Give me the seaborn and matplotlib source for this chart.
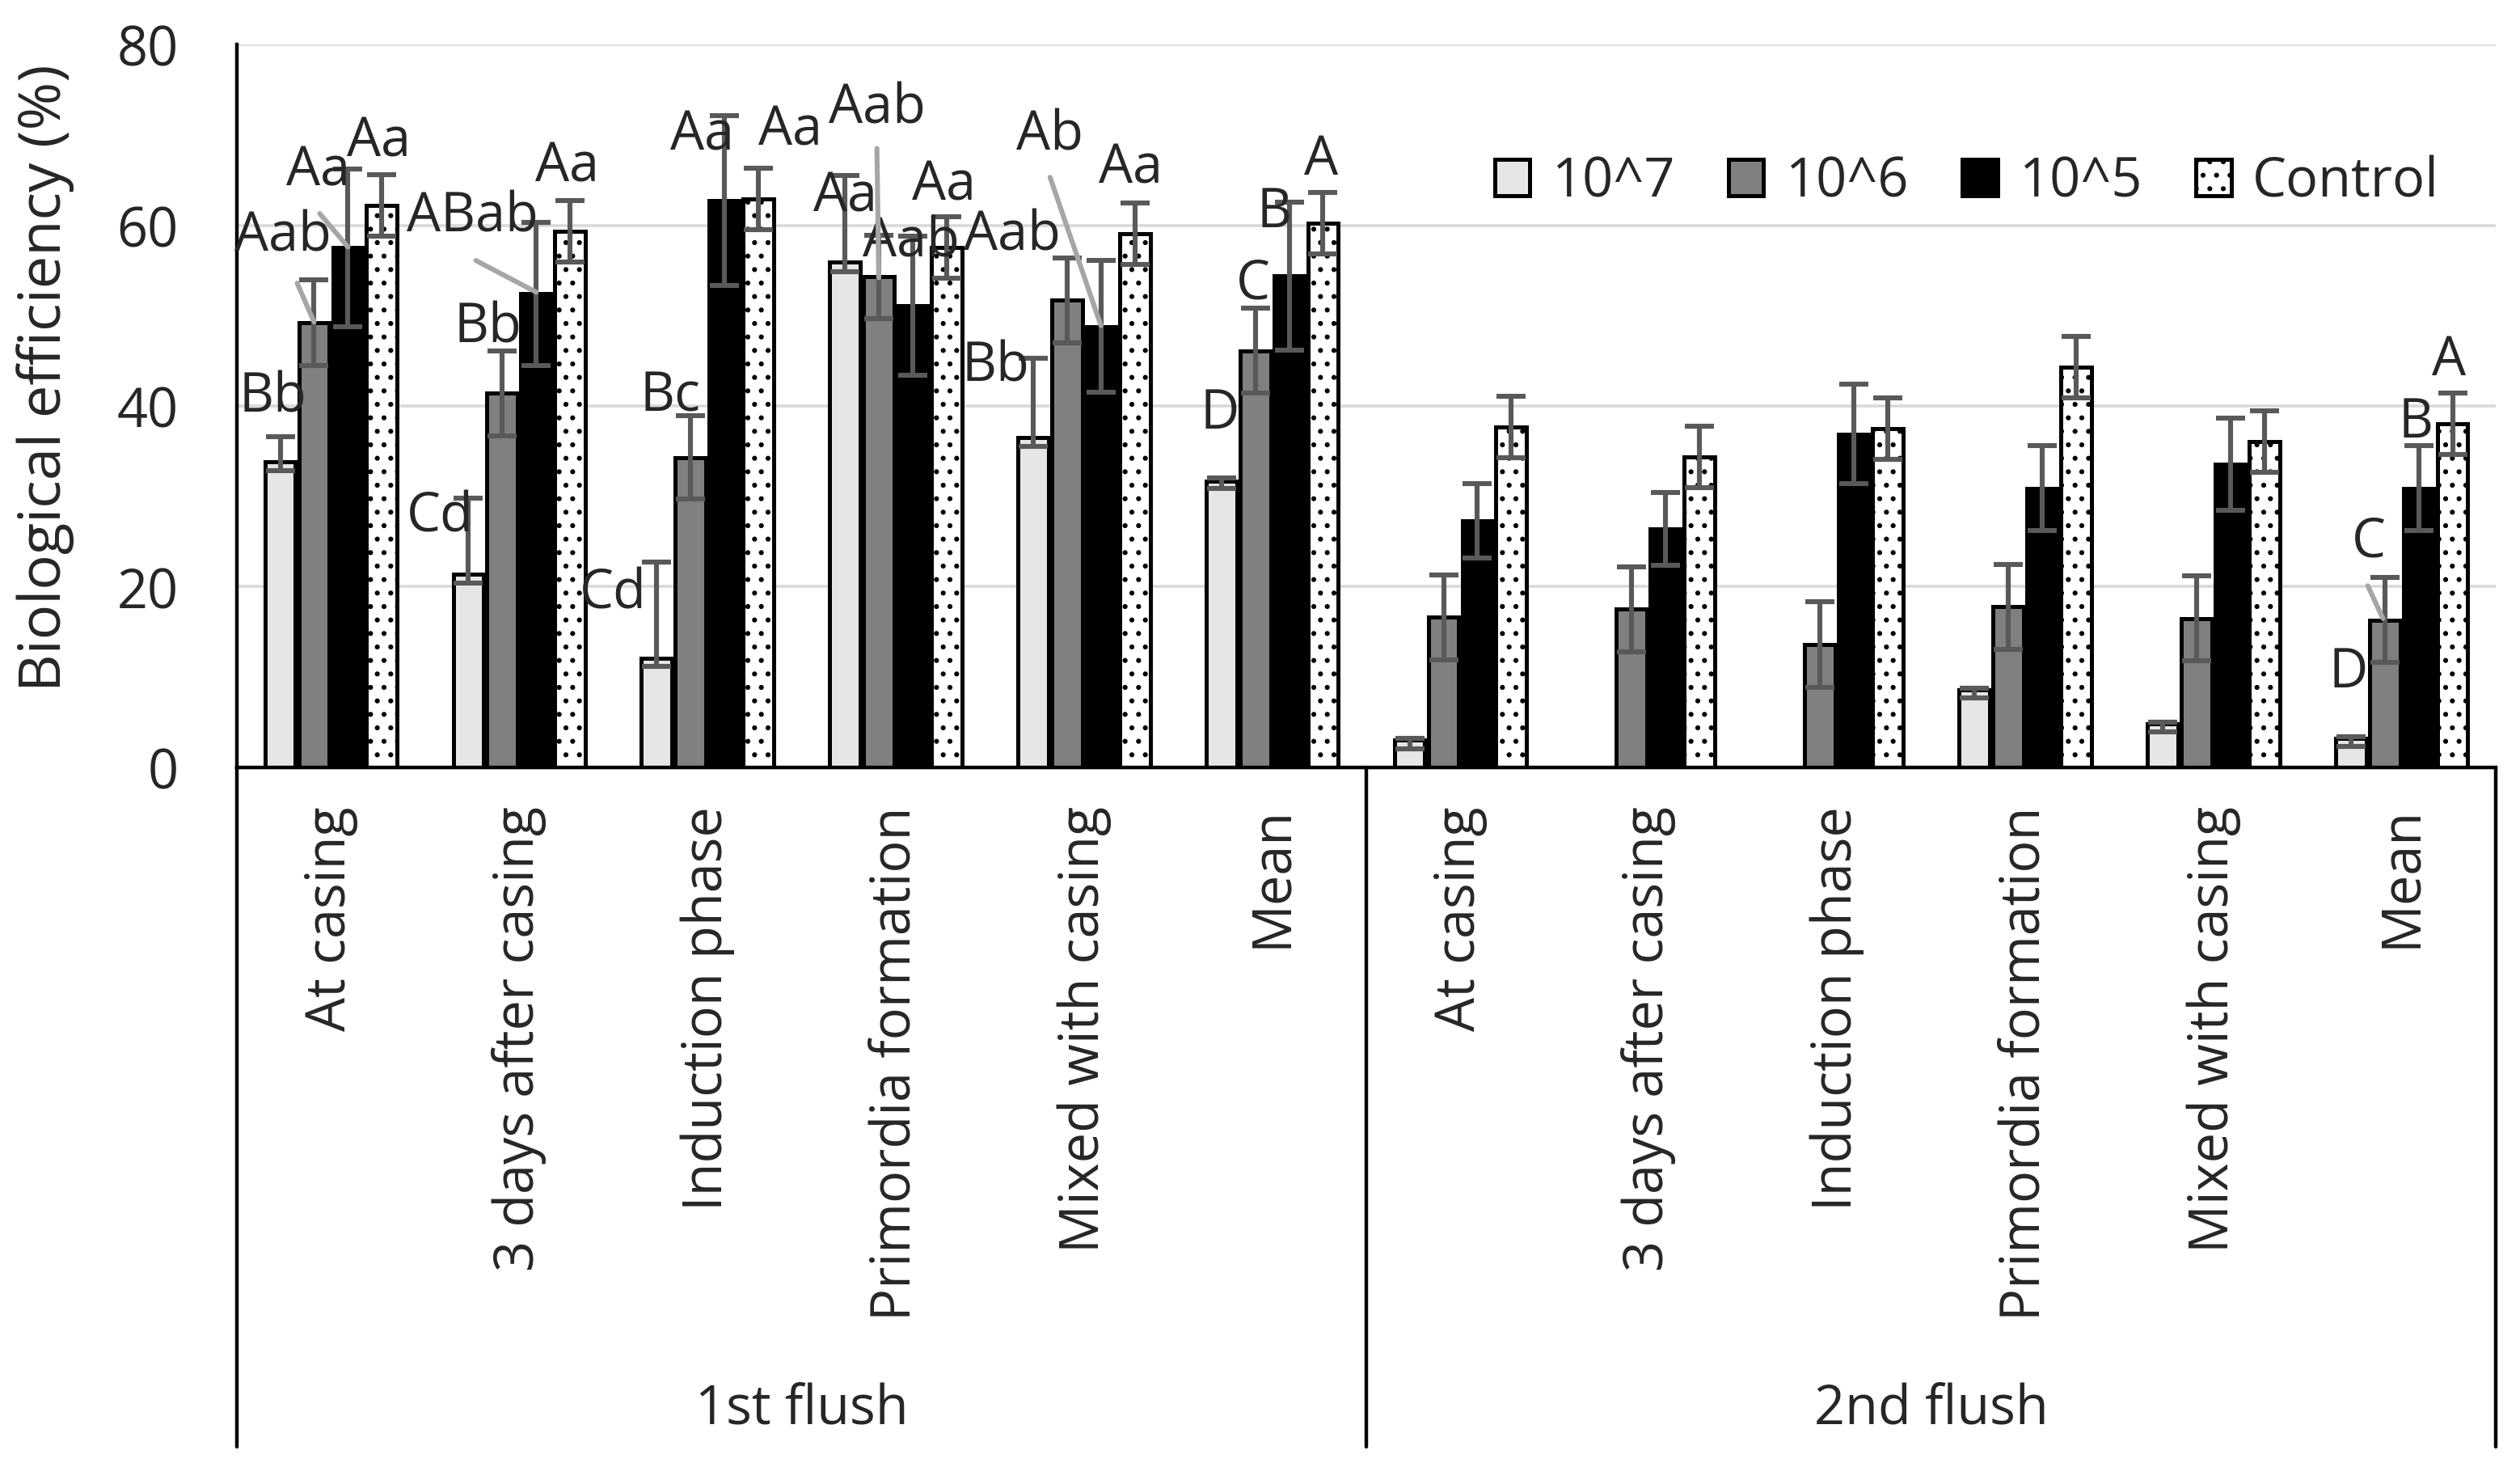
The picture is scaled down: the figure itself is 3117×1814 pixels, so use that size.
import numpy as np
import pandas as pd
import matplotlib.pyplot as plt
import matplotlib.transforms as mtransforms
from matplotlib.patches import Patch
import seaborn as sns

# === Data ===
flushes = ["1st flush", "2nd flush"]
stages = ["At casing", "3 days after casing", "Induction phase",
          "Primordia formation", "Mixed with casing", "Mean"]
doses = ["10^7", "10^6", "10^5", "Control"]

be_1e7 = [33.8, 21.4, 12.1, 55.9, 36.5, 31.7, 3.0, 0.0, 0.0, 8.6, 4.8, 3.2]
be_1e6 = [49.2, 41.4, 34.3, 54.3, 51.7, 46.1, 16.6, 17.5, 13.6, 17.8, 16.5, 16.3]
be_1e5 = [57.5, 52.4, 62.7, 51.1, 48.8, 54.4, 27.3, 26.4, 36.9, 30.9, 33.6, 30.9]
be_ctrl = [62.2, 59.3, 62.9, 57.5, 59.1, 60.2, 37.7, 34.4, 37.5, 44.3, 36.1, 38.0]

# error bars (10^7 ones are asymmetric in the figure)
err_1e7_lo = [1.0, 1.0, 0.9, 1.0, 1.0, 0.8, 0.9, 0.0, 0.0, 0.9, 0.9, 0.9]
err_1e7_hi = [2.8, 8.4, 10.6, 9.6, 8.8, 0.3, 0.2, 0.0, 0.0, 0.2, 0.2, 0.2]
err_1e6 = [4.75, 4.7, 4.6, 4.6, 4.7, 4.7, 4.7, 4.7, 4.7, 4.7, 4.7, 4.7]
err_1e5 = [8.7, 7.9, 9.4, 7.7, 7.3, 8.2, 4.1, 4.0, 5.5, 4.7, 5.1, 4.7]
err_ctrl = [3.4, 3.4, 3.4, 3.4, 3.4, 3.4, 3.4, 3.4, 3.4, 3.4, 3.4, 3.4]

# significance letters
letters = ["Bb", "Aab", "Aa", "Aa",
           "Cd", "Bb", "ABab", "Aa",
           "Cd", "Bc", "Aa", "Aa",
           "Aa", "Aab", "Aab", "Aa",
           "Bb", "Aab", "Ab", "Aa",
           "D", "C", "B", "A",
           "D", "C", "B", "A"]

# === Long-format table ===
slots = [f"{f}|{s}" for f in flushes for s in stages]
series = {"10^7": be_1e7, "10^6": be_1e6, "10^5": be_1e5, "Control": be_ctrl}
rows = []
for dose in doses:
    for slot, v in zip(slots, series[dose]):
        rows.append({"slot": slot, "dose": dose, "value": v})
df = pd.DataFrame(rows)

errs = {"10^7": (err_1e7_lo, err_1e7_hi),
        "10^6": (err_1e6, err_1e6),
        "10^5": (err_1e5, err_1e5),
        "Control": (err_ctrl, err_ctrl)}

# === Plot ===
sns.set_style("white")
plt.rcParams['font.family'] = ['Open Sans', 'DejaVu Sans']
plt.rcParams['hatch.linewidth'] = 1.0

fig = plt.figure(figsize=(15.585, 9.075), dpi=200)
ax = fig.add_axes([0.094, 0.4766, 0.8964, 0.4925])

palette = {"10^7": "#E7E6E6", "10^6": "#808080", "10^5": "#000000", "Control": "#FFFFFF"}
sns.barplot(data=df, x="slot", y="value", hue="dose", order=slots, hue_order=doses,
            palette=palette, saturation=1, width=0.72, gap=0.1,
            edgecolor="black", linewidth=1.8, errorbar=None, legend=False, ax=ax)

for patch in ax.containers[3]:
    patch.set_hatch("..")

# error bars on top of seaborn's bars
for dose, cont in zip(doses, ax.containers):
    lo, hi = errs[dose]
    for patch, v, l, h in zip(cont, series[dose], lo, hi):
        if v == 0:
            continue
        xc = patch.get_x() + patch.get_width() / 2
        ax.errorbar([xc], [v], yerr=[[l], [h]], fmt="none", ecolor="#595959",
                    elinewidth=2.2, capsize=6.5, capthick=2.2, zorder=5)

# letter annotations (x in category units, y in data units)
ann_pos = [(-0.31, 41.0), (-0.255, 58.8), (-0.07, 66.1), (0.255, 69.3),
           (0.58, 27.8), (0.835, 48.7), (0.75, 61.0), (1.255, 66.5),
           (1.50, 19.3), (1.80, 41.1), (1.97, 70.0), (2.44, 70.5),
           (2.73, 63.2), (2.90, 73.0), (3.08, 58.2), (3.255, 64.5),
           (3.53, 44.4), (3.62, 58.9), (3.82, 70.0), (4.25, 66.3),
           (4.72, 39.2), (4.90, 53.5), (5.01, 61.5), (5.26, 67.3),
           (10.715, 10.5), (10.825, 25.0), (11.075, 38.2), (11.25, 45.1)]
for txt, (x, y) in zip(letters, ann_pos):
    ax.text(x, y, txt, ha="center", va="center", fontsize=24, zorder=6)

leaders = [((-0.18, 53.6), (-0.09, 49.3)),
           ((-0.06, 61.3), (0.09, 57.6)),
           ((0.77, 56.1), (1.09, 52.6)),
           ((2.90, 68.5), (2.91, 54.2)),
           ((3.82, 65.3), (4.09, 48.9)),
           ((10.82, 20.1), (10.90, 16.5))]
for (x0, y0), (x1, y1) in leaders:
    ax.plot([x0, x1], [y0, y1], color="#A6A6A6", lw=2.2, zorder=6)

# axes styling
ax.set_ylim(0, 80)
ax.set_xlim(-0.5, 11.5)
ax.set_yticks([0, 20, 40, 60, 80])
ax.yaxis.grid(True, color="#D9D9D9", lw=1.3)
ax.set_axisbelow(True)
for side in ["top", "right"]:
    ax.spines[side].set_visible(False)
for side in ["left", "bottom"]:
    ax.spines[side].set_linewidth(1.6)
    ax.spines[side].set_color("black")
ax.tick_params(axis="y", length=0, pad=26, labelsize=24)
ax.tick_params(axis="x", length=0, pad=17, labelsize=24)
ax.set_xticks(range(len(slots)))
ax.set_xticklabels(stages + stages, rotation=90, va="top", ha="center")
ax.set_xlabel("")
ax.set_ylabel("Biological efficiency (%)", fontsize=26)
ax.yaxis.set_label_coords(-0.072, 0.54)

# multi-level category axis frame
trans = mtransforms.blended_transform_factory(ax.transData, ax.transAxes)
y_low = -0.94
ax.plot([-0.5, -0.5], [0, y_low], transform=trans, color="black", lw=1.6, clip_on=False)
ax.plot([5.5, 5.5], [0, y_low], transform=trans, color="black", lw=1.6, clip_on=False)
ax.plot([11.5, 11.5], [0, y_low], transform=trans, color="black", lw=1.6, clip_on=False)
for xg, lab in zip([2.5, 8.5], flushes):
    ax.text(xg, -0.887, lab, transform=trans, ha="center", va="center", fontsize=24)

# legend
handles = [Patch(facecolor=palette[d], edgecolor="black", linewidth=1.8,
                 hatch=".." if d == "Control" else None) for d in doses]
ax.legend(handles, doses, loc="center right", bbox_to_anchor=(0.975, 0.81), ncol=4,
          frameon=False, fontsize=24, handlelength=0.65, handleheight=0.65,
          handletextpad=0.4, columnspacing=1.0, borderaxespad=0, borderpad=0)

plt.savefig("out.png", dpi=200)
